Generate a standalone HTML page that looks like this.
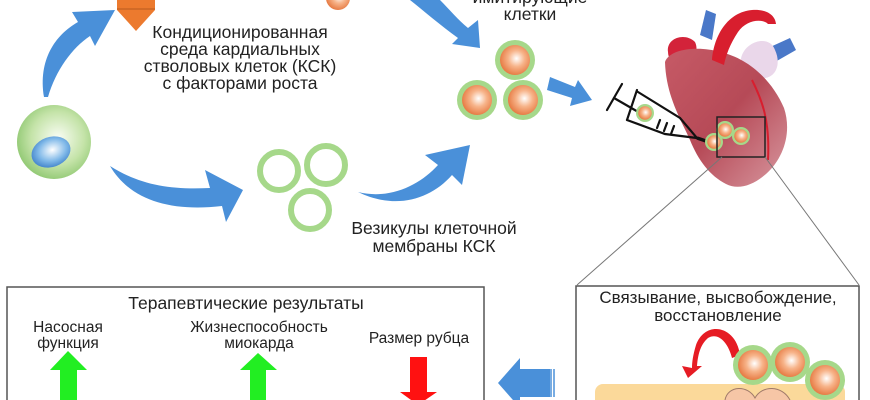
<!DOCTYPE html>
<html><head><meta charset="utf-8"><style>
html,body{margin:0;padding:0;background:#fff;}
svg{display:block;font-family:"Liberation Sans",sans-serif;}
</style></head><body>
<svg width="870" height="400" viewBox="0 0 870 400" xmlns="http://www.w3.org/2000/svg">
<defs>
<radialGradient id="gc" cx="0.55" cy="0.45" r="0.6"><stop offset="0" stop-color="#fafdf5"/><stop offset="0.6" stop-color="#c4e3a8"/><stop offset="1" stop-color="#8cc66e"/></radialGradient>
<radialGradient id="bn" cx="0.55" cy="0.45" r="0.6"><stop offset="0" stop-color="#ffffff"/><stop offset="0.6" stop-color="#7fb8e8"/><stop offset="1" stop-color="#3d7fc8"/></radialGradient>
<radialGradient id="oc" cx="0.55" cy="0.45" r="0.6"><stop offset="0" stop-color="#ffffff"/><stop offset="0.45" stop-color="#f7b48a"/><stop offset="1" stop-color="#e4733a"/></radialGradient>
<linearGradient id="hrt" x1="0" y1="0" x2="1" y2="1"><stop offset="0" stop-color="#c65a66"/><stop offset="0.5" stop-color="#b64a57"/><stop offset="1" stop-color="#d898a0"/></linearGradient>
<g id="cell"><circle r="20" fill="#a6d88a"/><circle r="15" fill="url(#oc)"/></g>
</defs>

<polygon points="117,0 155,0 155,10 136,31 117,10" fill="#ec7a2e"/>
<line x1="117" y1="9" x2="155" y2="9" stroke="#b85b1e" stroke-width="1"/>
<circle cx="338" cy="-2" r="12" fill="url(#oc)"/>

<path d="M44,97 C38,60 55,35 78,22 L72,12 L115,10 L95,46 L90,36 C72,48 56,70 48,97 Z" fill="#4a90d9"/>
<path d="M110,166 C140,185 170,190 210,188 L205,170 L243,190 L226,222 L222,206 C170,212 130,200 110,166 Z" fill="#4a90d9"/>
<path d="M358,192 C390,200 420,185 438,165 L425,155 L470,145 L462,185 L452,175 C430,200 395,210 358,192 Z" fill="#4a90d9"/>
<path d="M410,0 L440,0 C450,10 458,20 468,28 L478,20 L480,48 L452,44 L458,38 C440,25 425,12 410,0 Z" fill="#4a90d9"/>
<path d="M550,77 L575,87 L578,80 L592,100 L570,106 L572,98 L547,90 Z" fill="#4a90d9"/>

<circle cx="54" cy="142" r="37" fill="url(#gc)"/>
<ellipse cx="51" cy="152" rx="20" ry="15" transform="rotate(-20 51 152)" fill="url(#bn)"/>

<circle cx="279" cy="171" r="19" fill="none" stroke="#a6d88a" stroke-width="6"/>
<circle cx="326" cy="165" r="19" fill="none" stroke="#a6d88a" stroke-width="6"/>
<circle cx="310" cy="210" r="19" fill="none" stroke="#a6d88a" stroke-width="6"/>

<use href="#cell" x="515" y="60"/>
<use href="#cell" x="477" y="100"/>
<use href="#cell" x="523" y="100"/>

<g font-size="17.5" fill="#222" text-anchor="middle">
<text x="240" y="38">Кондиционированная</text>
<text x="240" y="55">среда кардиальных</text>
<text x="240" y="72">стволовых клеток (КСК)</text>
<text x="240" y="89">с факторами роста</text>
<text x="434" y="234">Везикулы клеточной</text>
<text x="434" y="252">мембраны КСК</text>
<text x="530" y="3">имитирующие</text>
<text x="530" y="20">клетки</text>
</g>

<!-- heart -->
<path d="M700,35 L706,10 L716,14 L712,40 Z" fill="#4a78c8"/>
<path d="M768,48 L790,38 L796,50 L775,62 Z" fill="#4a78c8"/>
<path d="M742,55 C748,40 770,35 775,50 C782,65 775,80 760,78 C745,75 738,65 742,55 Z" fill="#ead7ea"/>
<path d="M668,52 C666,38 685,32 695,42 C700,52 692,66 680,66 C672,64 668,58 668,52 Z" fill="#d3233a"/>
<path d="M665,62 C670,48 700,46 720,52 C748,58 772,80 784,108 C792,132 784,158 766,174 C752,186 738,190 726,184 C710,176 698,160 690,140 C680,118 666,95 665,62 Z" fill="url(#hrt)"/>
<path d="M712,60 C714,35 728,12 752,10 C765,9 775,14 776,24 L768,24 C762,18 746,20 738,32 C730,44 726,55 724,65 Z" fill="#d81e2e"/>
<path d="M752,80 C762,100 770,120 768,160" stroke="#d81e2e" stroke-width="2" fill="none"/>
<g stroke="#111" stroke-width="2.2" fill="none" stroke-linecap="round">
<line x1="607" y1="110" x2="622" y2="84"/>
<line x1="614" y1="98" x2="640" y2="113"/>
<line x1="637" y1="90" x2="627" y2="120"/>
<path d="M638,92 L680,118 L697,138 L665,134 L627,120"/>
<path d="M660,120 L657,128 M667,123 L664,131 M674,126 L671,134"/>
</g>
<line x1="697" y1="138" x2="712" y2="143" stroke="#111" stroke-width="3.5"/>
<g transform="translate(645,113) scale(0.45)"><use href="#cell"/></g>
<g transform="translate(714,142) scale(0.45)"><use href="#cell"/></g>
<g transform="translate(725,130) scale(0.45)"><use href="#cell"/></g>
<g transform="translate(741,136) scale(0.45)"><use href="#cell"/></g>
<rect x="717" y="117" width="48" height="40" fill="none" stroke="#222" stroke-width="1.5"/>
<line x1="722" y1="157" x2="577" y2="285" stroke="#777" stroke-width="1"/>
<line x1="765" y1="157" x2="859" y2="285" stroke="#777" stroke-width="1"/>

<rect x="576" y="286" width="283" height="120" fill="#fff" stroke="#555" stroke-width="1.5"/>
<g font-size="17" fill="#222" text-anchor="middle">
<text x="718" y="303">Связывание, высвобождение,</text>
<text x="718" y="321">восстановление</text>
</g>
<rect x="595" y="384" width="250" height="30" rx="8" fill="#fbd99a"/>
<path d="M725,400 C728,385 748,385 755,398 C762,385 782,385 790,400" fill="#f6c6a6" stroke="#a07a6a" stroke-width="1"/>
<path d="M740,355 C736,325 705,320 696,345 C693,355 692,362 692,368 L682,366 L688,378 L702,366 L697,366 C698,355 700,345 708,338 C718,332 728,342 732,358 Z" fill="#e61c24"/>
<use href="#cell" x="753" y="365"/>
<use href="#cell" x="790" y="362"/>
<use href="#cell" x="825" y="380"/>

<path d="M498,383 L520,358 L520,369 L550,369 L550,397 L520,397 L520,408 Z" fill="#4a90d9"/>
<line x1="551" y1="369" x2="551" y2="397" stroke="#4a90d9" stroke-width="1.5"/>
<line x1="554" y1="369" x2="554" y2="397" stroke="#4a90d9" stroke-width="1.5"/>

<rect x="7" y="287" width="477" height="120" fill="#fff" stroke="#555" stroke-width="1.5"/>
<g font-size="17.5" fill="#222" text-anchor="middle">
<text x="246" y="309">Терапевтические результаты</text>
</g>
<g font-size="15.5" fill="#222" text-anchor="middle">
<text x="68" y="332">Насосная</text>
<text x="68" y="348">функция</text>
<text x="259" y="332">Жизнеспособность</text>
<text x="259" y="348">миокарда</text>
<text x="419" y="343">Размер рубца</text>
</g>
<polygon points="68,351 87,370 77,370 77,400 60,400 60,370 50,370" fill="#22ee22"/>
<polygon points="258,353 277,370 266,370 266,400 250,400 250,370 240,370" fill="#22ee22"/>
<polygon points="410,357 427,357 427,392 437,392 418,405 400,392 410,392" fill="#ff1111"/>
</svg>
</body></html>
